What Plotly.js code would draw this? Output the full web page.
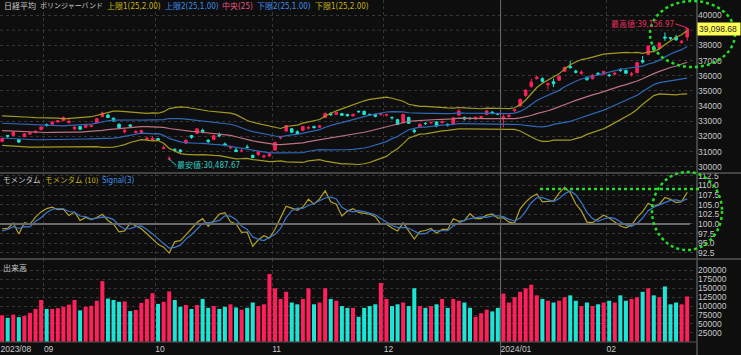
<!DOCTYPE html>
<html><head><meta charset="utf-8">
<script src="https://cdn.plot.ly/plotly-3.0.1.min.js"></script>
<style>html,body{margin:0;padding:0;background:#0e0e0e;}#chart{width:741px;height:355px;}</style>
</head><body><div id="chart"></div>
<script>
// ---- data ----
const dates = [
"2023-08-22","2023-08-23","2023-08-24","2023-08-25","2023-08-28","2023-08-29","2023-08-30","2023-08-31",
"2023-09-01","2023-09-04","2023-09-05","2023-09-06","2023-09-07","2023-09-08","2023-09-11","2023-09-12","2023-09-13","2023-09-14","2023-09-15","2023-09-19","2023-09-20","2023-09-21","2023-09-22","2023-09-25","2023-09-26","2023-09-27","2023-09-28","2023-09-29",
"2023-10-02","2023-10-03","2023-10-04","2023-10-05","2023-10-06","2023-10-10","2023-10-11","2023-10-12","2023-10-13","2023-10-16","2023-10-17","2023-10-18","2023-10-19","2023-10-20","2023-10-23","2023-10-24","2023-10-25","2023-10-26","2023-10-27","2023-10-30","2023-10-31",
"2023-11-01","2023-11-02","2023-11-06","2023-11-07","2023-11-08","2023-11-09","2023-11-10","2023-11-13","2023-11-14","2023-11-15","2023-11-16","2023-11-17","2023-11-20","2023-11-21","2023-11-22","2023-11-24","2023-11-27","2023-11-28","2023-11-29","2023-11-30",
"2023-12-01","2023-12-04","2023-12-05","2023-12-06","2023-12-07","2023-12-08","2023-12-11","2023-12-12","2023-12-13","2023-12-14","2023-12-15","2023-12-18","2023-12-19","2023-12-20","2023-12-21","2023-12-22","2023-12-25","2023-12-26","2023-12-27","2023-12-28","2023-12-29",
"2024-01-04","2024-01-05","2024-01-09","2024-01-10","2024-01-11","2024-01-12","2024-01-15","2024-01-16","2024-01-17","2024-01-18","2024-01-19","2024-01-22","2024-01-23","2024-01-24","2024-01-25","2024-01-26","2024-01-29","2024-01-30","2024-01-31",
"2024-02-01","2024-02-02","2024-02-05","2024-02-06","2024-02-07","2024-02-08","2024-02-09","2024-02-13","2024-02-14","2024-02-15","2024-02-16","2024-02-19","2024-02-20","2024-02-21","2024-02-22"];

const openP = [
31670,32050,32060,31780,31980,32150,32250,32450,
32780,32800,32950,33050,32900,32500,32650,32600,32650,32900,33300,33400,33200,32800,32300,32750,32250,32250,31800,31750,
31850,31200,30500,31150,31100,31550,32050,32200,32400,31750,31800,32100,31500,31250,31100,31050,31300,30750,30800,30650,30700,
31100,31900,32350,32500,32300,32400,32550,32650,32600,33250,33500,33450,33500,33450,33350,33650,33650,33450,33450,33450,
33400,33250,33100,32900,33250,32400,32600,32850,32900,32950,32900,32800,32800,33400,33250,33200,33150,33250,33450,33600,33500,
33200,33300,33700,34000,34700,35300,35800,35800,35400,35600,35700,36300,36600,36300,36150,35900,35800,36150,36100,
36050,36100,36400,36350,36100,36200,37000,37400,37900,37800,38550,38500,38550,38200,38550];
const highP = [
31890,32100,32300,31800,32200,32280,32400,32650,
32850,33000,33080,33320,33150,32700,32700,32800,32780,33200,33630,33480,33230,32850,32500,32800,32400,32450,31980,32000,
31900,31400,30700,31200,31150,31800,32100,32500,32500,31800,32100,32250,31600,31400,31250,31200,31450,30800,31050,30800,30900,
31650,32000,32750,32550,32400,32650,32700,32700,32750,33550,33600,33600,33550,33450,33500,33700,33700,33500,33500,33530,
33500,33300,33150,33450,33300,32500,32850,32950,32950,33000,33050,32850,33250,33800,33300,33250,33300,33350,33700,33650,33550,
33450,33500,33800,34500,35100,35800,36000,35900,35550,35800,36000,36600,36980,36400,36350,35950,36100,36250,36300,
36100,36250,36500,36400,36250,36900,37300,37950,38000,38200,38850,38550,38700,38350,39156.97];
const lowP = [
31620,31900,32050,31560,31950,32100,32200,32400,
32650,32780,32900,33000,32900,32400,32430,32550,32600,32850,33280,33200,32950,32500,32200,32550,32200,32200,31750,31700,
31700,31150,30487.67,30950,30900,31500,31850,32150,32200,31550,31750,31950,31350,31150,30950,30950,31200,30550,30700,30550,30650,
31050,31800,32300,32250,32100,32350,32450,32500,32550,33200,33350,33400,33350,33300,33300,33550,33400,33350,33250,33350,
33300,33100,32750,32850,32850,32200,32550,32750,32800,32600,32850,32650,32750,33350,33050,33100,33100,33200,33400,33450,33400,
32600,33250,33600,33950,34600,35200,35750,35550,35100,35250,35650,36250,36500,36150,36050,35650,35750,36000,36050,
35900,36050,36250,36150,35950,36150,36800,37350,37600,37700,38300,38350,38300,38100,38300];
const closeP = [
31856,32010,32287,31624,32169,32226,32333,32619,
32710,32939,33036,33241,32991,32606,32467,32776,32706,33168,33533,33242,33023,32571,32402,32678,32315,32372,31872,31857,
31759,31237,30526,31075,30994,31746,31936,32494,32315,31659,32040,32042,31430,31259,30999,31062,31269,30601,30991,30697,30859,
31601,31950,32708,32272,32166,32646,32568,32585,32695,33520,33424,33585,33388,33354,33452,33625,33447,33408,33321,33486,
33431,33231,32775,33446,32858,32307,32791,32843,32926,32686,32970,32759,33219,33675,33141,33169,33254,33305,33681,33540,33464,
33288,33377,33763,34441,35049,35577,35901,35619,35477,35466,35963,36546,36517,36226,36236,35751,36026,36066,36287,
36011,36158,36354,36160,36120,36863,36897,37964,37704,38158,38487,38470,38364,38262,39098.68];
// closes before the first shown day (indicator warm-up)
const priorCloses = [32493,32896,32490,32304,32700,32682,32668,32891,32759,33172,33476,32707,32159,32192,32254,32377,32204,32474,32059,32238,31766,31626,31451,31566];
const volume = [
74000,67000,76000,69000,72000,81000,92000,117000,
92000,92000,94000,98000,104000,117000,88000,98000,101000,115000,170000,121000,117000,112000,113000,86000,89000,109000,120000,136000,
106000,112000,141000,117000,98000,103000,92000,103000,120000,95000,100000,92000,98000,105000,96000,90000,95000,110000,100000,105000,190000,
150000,120000,140000,110000,105000,120000,150000,105000,110000,150000,120000,115000,100000,95000,95000,70000,95000,100000,105000,165000,
120000,100000,105000,110000,100000,150000,100000,95000,100000,105000,120000,95000,120000,115000,110000,95000,70000,80000,90000,85000,95000,
135000,110000,125000,140000,150000,160000,130000,120000,115000,110000,115000,125000,130000,115000,100000,110000,100000,105000,110000,
115000,110000,130000,115000,120000,125000,140000,150000,130000,125000,155000,105000,110000,105000,127000];
const tickLabels = ["2023/08","09","10","11","12","2024/01","02"];
const legendTop = ["日経平均","ボリンジャーバンド","上限1(25,2.00)","上限2(25,1.00)","中央(25)","下限2(25,1.00)","下限1(25,2.00)"];
const legendMom = ["モメンタム","モメンタム (10)","Signal(3)"];
const volTitle = "出来高";

// ---- derived ----
const RED = "#ff1f5a", CYAN = "#1de5d5";
const xs = dates.map((d, i) => i);
const allC = priorCloses.concat(closeP);
const P = priorCloses.length;
function bb(k) {
  return closeP.map((c, i) => {
    const j = i + P; const w = allC.slice(j - 24, j + 1);
    const m = w.reduce((a, b) => a + b, 0) / w.length;
    const sd = Math.sqrt(w.reduce((a, b) => a + (b - m) * (b - m), 0) / w.length);
    return m + k * sd;
  });
}
const momAll = allC.map((c, j) => j >= 10 ? c / allC[j - 10] * 100 : null);
const sigAll = momAll.map((v, j) => (j >= 12) ? (momAll[j] + momAll[j - 1] + momAll[j - 2]) / 3 : null);
const mom = momAll.slice(P), sig = sigAll.slice(P);
const volColors = closeP.map((c, i) => c >= openP[i] ? RED : CYAN);
const monthStarts = [];
dates.forEach((d, i) => { if (i === 0 || d.slice(0, 7) !== dates[i - 1].slice(0, 7)) monthStarts.push(i === 0 ? -0.3 : i - 0.5); });

const line = (y, color, axis) => ({type: "scatter", mode: "lines", x: xs, y: y, yaxis: axis, line: {color: color, width: 1.2}, hoverinfo: "skip"});
const traces = [
  line(bb(2), "#a39a22", "y"), line(bb(1), "#2f68b8", "y"), line(bb(0), "#bb7282", "y"),
  line(bb(-1), "#2f68b8", "y"), line(bb(-2), "#a39a22", "y"),
  {type: "candlestick", x: xs, open: openP, high: highP, low: lowP, close: closeP, yaxis: "y",
   increasing: {line: {color: RED, width: 1}, fillcolor: RED},
   decreasing: {line: {color: CYAN, width: 1}, fillcolor: CYAN}, whiskerwidth: 0, hoverinfo: "skip"},
  line(mom, "#b2a12a", "y2"), line(sig, "#3a78d0", "y2"),
  {type: "bar", x: xs, y: volume, yaxis: "y3", marker: {color: volColors, line: {width: 0}}, width: 0.72, hoverinfo: "skip"}
];

const W = 697, H = 342;
const px = v => v / W, py = v => 1 - v / H;
const txtFam = "'Liberation Sans Narrow', 'DejaVu Sans Condensed', 'Noto Sans CJK JP', sans-serif";
const font = "'Noto Sans CJK JP', 'Noto Sans', sans-serif";
const axFam = "'Liberation Sans', 'Noto Sans CJK JP', sans-serif";
const gray = "#c8c8c8";
const ctx = document.createElement("canvas").getContext("2d");
const measure = (t, size) => { ctx.font = size + "px " + txtFam; return ctx.measureText(t).width; };
const ann = [];
function placeRow(texts, starts, colors, sizes, y) {
  let end = -1e9;
  texts.forEach((t, i) => {
    const x = Math.max(starts[i], end + 4);
    ann.push({xref: "paper", yref: "paper", x: px(x), y: py(y), xanchor: "left", yanchor: "middle", text: t, showarrow: false,
      borderpad: 0, font: {family: txtFam, size: sizes[i], color: colors[i]}});
    end = x + measure(t, sizes[i]);
  });
}
placeRow(legendTop, [3, 37, 97, 153, 210, 245, 303], [gray, gray, "#c8b418", "#3f8fe8", "#e8577e", "#3f8fe8", "#c8b418"], [8, 7, 8, 8, 8, 8, 8], 6);
placeRow(legendMom, [2, 44, 84], [gray, "#c8b418", "#3f8fe8"], [7.5, 7.5, 8], 180);
placeRow([volTitle], [2], [gray], [8], 268);
const iMax = highP.indexOf(Math.max(...highP)), iMin = lowP.indexOf(Math.min(...lowP));
ann.push({x: xs[iMax], y: highP[iMax], xref: "x", yref: "y", text: "最高値:" + highP[iMax].toLocaleString("en-US", {minimumFractionDigits: 2}),
  showarrow: true, arrowhead: 0, arrowwidth: 1, arrowcolor: "#e8305f", ax: -12, ay: -4, xanchor: "right", borderpad: 0, font: {family: txtFam, size: 8, color: "#e8305f"}});
ann.push({x: xs[iMin], y: lowP[iMin], xref: "x", yref: "y", text: "最安値:" + lowP[iMin].toLocaleString("en-US", {minimumFractionDigits: 2}),
  showarrow: true, arrowhead: 0, arrowwidth: 1, arrowcolor: "#30c8c0", ax: 7, ay: 6, xanchor: "left", borderpad: 0, font: {family: txtFam, size: 8, color: "#30c8c0"}});
ann.push({xref: "paper", yref: "y", x: 1, y: closeP[closeP.length - 1], xanchor: "left", yanchor: "middle", xshift: 0,
  text: closeP[closeP.length - 1].toLocaleString("en-US", {minimumFractionDigits: 2}) + " ", showarrow: false,
  bgcolor: "#ffff55", borderpad: 1, font: {family: axFam, size: 8.5, color: "#222"}});

const G = "#22e022";
const shapes = [
  {type: "line", xref: "paper", yref: "y", x0: 0, x1: 1, y0: 39000, y1: 39000, line: {color: "#363636", width: 1, dash: "dot"}},
  {type: "line", xref: "paper", yref: "paper", x0: 0, x1: 741 / W, y0: py(173), y1: py(173), line: {color: "#555", width: 1.5}},
  {type: "line", xref: "paper", yref: "paper", x0: 0, x1: 741 / W, y0: py(259), y1: py(259), line: {color: "#555", width: 1.5}},
  {type: "line", xref: "paper", yref: "paper", x0: 0, x1: 1, y0: 0, y1: 0, line: {color: "#555", width: 1}},
  {type: "line", xref: "paper", yref: "paper", x0: 1, x1: 1, y0: -0.04, y1: 1, line: {color: "#555", width: 1.5}},
  {type: "line", xref: "x", yref: "paper", x0: monthStarts[5], x1: monthStarts[5], y0: -0.04, y1: 1, line: {color: "#6a6a6a", width: 1}},
  {type: "line", xref: "paper", yref: "y2", x0: 0, x1: px(690), y0: 100, y1: 100, line: {color: "#6a6a6a", width: 2}},
  {type: "line", xref: "paper", yref: "paper", x0: px(540), x1: px(702), y0: py(189), y1: py(189), line: {color: G, width: 2.5, dash: "dot"}},
  {type: "circle", xref: "paper", yref: "paper", x0: px(650), x1: px(735), y0: py(67), y1: py(1), line: {color: G, width: 2.5, dash: "dot"}},
  {type: "circle", xref: "paper", yref: "paper", x0: px(652), x1: px(722), y0: py(250), y1: py(172), line: {color: G, width: 2.5, dash: "dot"}}
];

const axFont = {family: axFam, size: 8.5, color: gray};
const yCommon = {side: "right", showgrid: true, gridcolor: "#363636", griddash: "dot", zeroline: false, showline: false, ticks: "", tickfont: axFont, fixedrange: true};
const seq = (a, b, s) => { const r = []; for (let v = a; v <= b + 1e-9; v += s) r.push(v); return r; };
const layout = {
  width: 741, height: 355, margin: {l: 0, r: 44, t: 0, b: 13},
  paper_bgcolor: "#0e0e0e", plot_bgcolor: "#0e0e0e", showlegend: false, boxgap: 0.35,
  xaxis: {type: "linear", range: [-0.38, 124.76], anchor: "y3", tickvals: monthStarts, ticktext: tickLabels,
    ticklabelposition: "outside right", showgrid: true, gridcolor: "#363636", griddash: "dot", zeroline: false, showline: false,
    ticks: "", tickfont: {family: axFam, size: 8.5, color: gray}, rangeslider: {visible: false}},
  yaxis: Object.assign({}, yCommon, {domain: [py(173), 1], range: [29584, 40990], tickvals: seq(30000, 40000, 1000).filter(v => v !== 39000), tickformat: "d"}),
  yaxis2: Object.assign({}, yCommon, {domain: [py(259), py(173)], range: [90.9, 113.25], tickvals: seq(92.5, 112.5, 2.5), tickformat: ".1f"}),
  yaxis3: Object.assign({}, yCommon, {domain: [0, py(259)], range: [-700, 232000], tickvals: seq(25000, 200000, 25000), tickformat: "d"}),
  annotations: ann, shapes: shapes, font: {family: font}
};
Plotly.newPlot("chart", traces, layout, {staticPlot: true});
</script></body></html>
